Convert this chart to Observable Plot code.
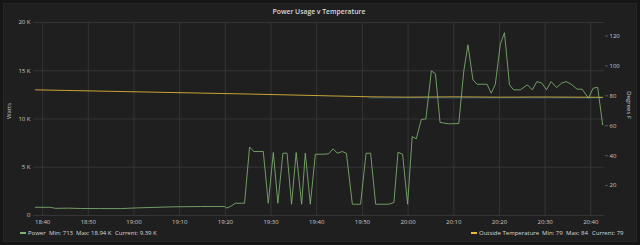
<!DOCTYPE html>
<html>
<head>
<meta charset="utf-8">
<script src="https://cdn.jsdelivr.net/npm/d3@7"></script>
<script src="https://cdn.jsdelivr.net/npm/@observablehq/plot@0.6"></script>
<style>
  html, body { margin: 0; padding: 0; background: #161617; }
  #wrap { position: relative; width: 640px; height: 245px; overflow: hidden; background: #161617; font-family: "Open Sans", sans-serif; }
  #panel { position: absolute; left: 3px; top: 3px; width: 632px; height: 237px; background: #1f1f20; border: 1px solid #262628; }
  #title { position: absolute; left: 0; top: 7px; width: 638px; text-align: center; color: #d8d9da; font-size: 6.8px; font-weight: 600; }
  #chart { position: absolute; left: 0; top: 0; }
  .li { position: absolute; top: 229px; color: #d8d9da; font-size: 6px; line-height: 8px; white-space: nowrap; }
  .sw { position: absolute; top: 232px; width: 6px; height: 2px; }
</style>
</head>
<body>
<div id="wrap">
  <div id="panel"></div>
  <div id="title">Power Usage v Temperature</div>
  <div id="chart"></div>
  <div id="legend"></div>
</div>
<script>
// ---- Data (minutes after 18:40) ----
const powerMinutes = [-1.6,1.7,2.8,5.7,8.3,12.7,17.1,20.7,28.7,34.6,39.8,40.3,41.1,42.2,44.2,45.3,46.2,48.3,49.4,50.5,51.5,52.6,53.5,54.5,55.5,56.7,57.5,58.6,59.7,61.6,62.6,63.6,64.5,65.6,66.5,67.8,69.6,70.8,71.8,72.9,75.8,76.9,77.8,78.8,79.9,80.9,81.8,82.9,83.9,85.1,86.0,87.0,88.9,91.1,92.2,93.1,94.2,95.1,97.3,98.2,99.1,100.2,101.1,102.2,103.1,104.6,106.1,107.2,108.2,109.3,110.3,111.3,112.5,113.6,114.6,115.7,117.0,118.1,119.5,120.5,121.5,122.6];
const powerWatts = [850,850,740,760,725,720,713,790,900,930,930,780,930,1270,1270,7100,6630,6630,1270,6530,1270,6460,6460,1170,6530,1170,6460,1170,6350,6350,6390,6910,6450,6630,6450,1170,1170,6450,6450,1170,1170,1350,6560,6350,1170,8180,7950,9950,10000,14990,14680,9640,9500,9530,14990,17690,14060,13600,13600,12670,13600,17770,18940,13540,13020,13020,13540,13020,13880,13710,13020,13880,13260,13710,13880,13600,13090,13090,12150,13190,13290,9390];

const tempMinutes = [-1.6,5,15,25,35,45,55,65,72,80,90,100,110,122.6];
const tempF = [84,83.6,83,82.4,81.8,81.2,80.5,79.8,79.3,79.1,79.3,79.1,79.2,79];

const blueMinutes = [71.5,122.6];
const blueF = [78.6,78.6];

const xTicks = [0,10,20,30,40,50,60,70,80,90,100,110,120];
const xTickLabels = ["18:40","18:50","19:00","19:10","19:20","19:30","19:40","19:50","20:00","20:10","20:20","20:30","20:40"];
const wattTicks = [0,5000,10000,15000,20000];
const wattTickLabels = ["0","5 K","10 K","15 K","20 K"];
const degTicks = [20,40,60,80,100,120];

const seriesNames = ["Power", "Outside Temperature"];
const seriesColors = ["#7eb26d", "#eab839"];

// ---- Build ----
const degMax = 129;
const k = 20000 / degMax; // degrees -> watts-equivalent on the shared y scale
const power = powerMinutes.map((m, i) => ({m, v: powerWatts[i]}));
const temp = tempMinutes.map((m, i) => ({m, v: tempF[i] * k}));
const blue = blueMinutes.map((m, i) => ({m, v: blueF[i] * k}));

const tickCol = "#c8c9ca";
const gridCol = "#353537";
const fs = 6;

const chart = Plot.plot({
  width: 640,
  height: 245,
  marginLeft: 33,
  marginRight: 36,
  marginTop: 22,
  marginBottom: 30,
  style: {background: "transparent", fontFamily: "Open Sans, sans-serif"},
  x: {domain: [-2, 123]},
  y: {domain: [0, 20000]},
  marks: [
    Plot.gridX(xTicks, {stroke: gridCol, strokeOpacity: 1}),
    Plot.gridY(wattTicks, {stroke: gridCol, strokeOpacity: 1}),
    Plot.axisX(xTicks, {tickSize: 0, tickPadding: 4, tickFormat: (d) => xTickLabels[xTicks.indexOf(d)], fill: tickCol, fontSize: fs, label: null}),
    Plot.axisY(wattTicks, {anchor: "left", tickSize: 0, tickPadding: 3, tickFormat: (d) => wattTickLabels[wattTicks.indexOf(d)], fill: tickCol, fontSize: fs, label: null}),
    Plot.axisY(degTicks.map(d => d * k), {anchor: "right", tickSize: 3, tickPadding: 2, stroke: "#555", tickFormat: (d) => String(Math.round(d / k)), fill: tickCol, fontSize: fs, label: null}),
    Plot.text(["Watts"], {frameAnchor: "left", dx: -24, rotate: -90, fill: tickCol, fontSize: fs}),
    Plot.text(["Degrees F"], {frameAnchor: "right", dx: 24, rotate: 90, fill: tickCol, fontSize: fs}),
    Plot.line(blue, {x: "m", y: "v", stroke: "#1f78c1", strokeOpacity: 0.55, strokeWidth: 1}),
    Plot.line(temp, {x: "m", y: "v", stroke: seriesColors[1], strokeOpacity: 0.85, strokeWidth: 1}),
    Plot.line(power, {x: "m", y: "v", stroke: seriesColors[0], strokeOpacity: 0.85, strokeWidth: 1})
  ]
});
document.getElementById("chart").appendChild(chart);

// ---- Legends ----
const fmtK = (v) => v >= 1000 ? (v / 1000).toFixed(2) + " K" : String(Math.round(v));
const legendItems = [
  {sw: seriesColors[0], x: 20},
  {t: seriesNames[0], x: 28},
  {t: "Min: " + fmtK(d3.min(powerWatts)), x: 49},
  {t: "Max: " + fmtK(d3.max(powerWatts)), x: 76},
  {t: "Current: " + fmtK(powerWatts[powerWatts.length - 1]), x: 115},
  {sw: seriesColors[1], x: 471},
  {t: seriesNames[1], x: 479},
  {t: "Min: " + Math.round(d3.min(tempF)), x: 542},
  {t: "Max: " + Math.round(d3.max(tempF)), x: 566},
  {t: "Current: " + Math.round(tempF[tempF.length - 1]), x: 592}
];
const leg = document.getElementById("legend");
for (const it of legendItems) {
  const el = document.createElement("div");
  if (it.sw) { el.className = "sw"; el.style.background = it.sw; }
  else { el.className = "li"; el.textContent = it.t; }
  el.style.left = it.x + "px";
  leg.appendChild(el);
}
</script>
</body>
</html>
